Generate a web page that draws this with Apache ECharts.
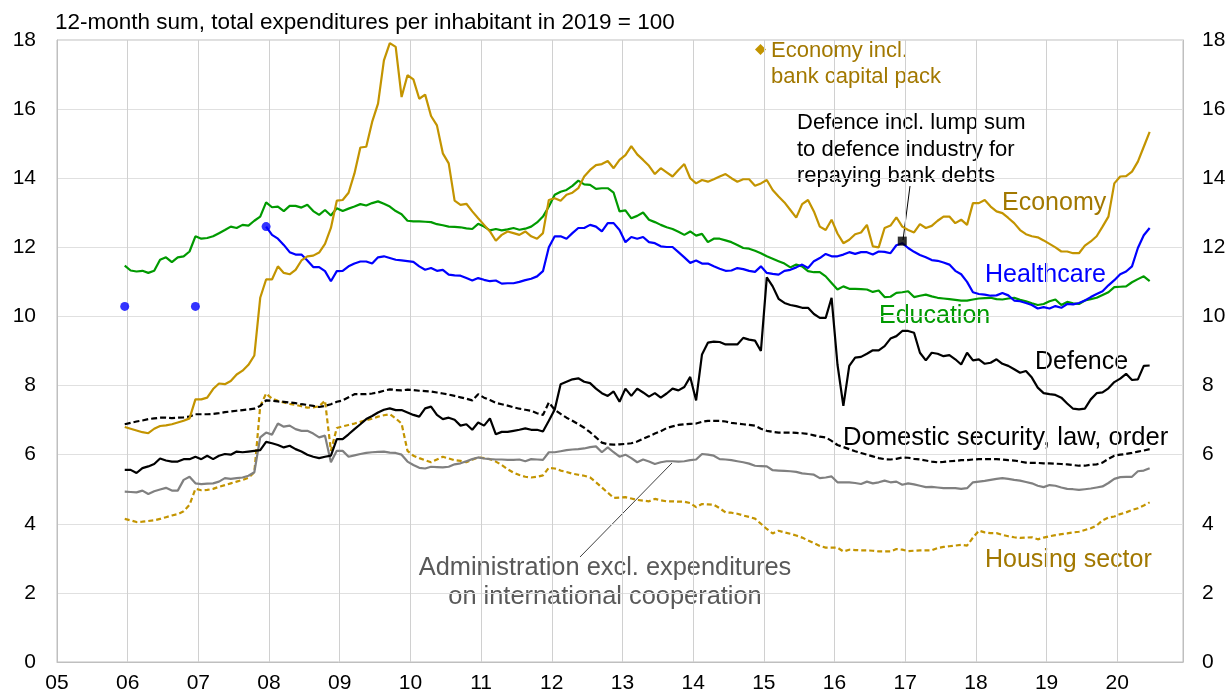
<!DOCTYPE html>
<html><head><meta charset="utf-8">
<script src="https://cdn.jsdelivr.net/npm/echarts@6/dist/echarts.min.js"></script>
<style>html,body{margin:0;padding:0;background:#fff}#c{width:1230px;height:694px}</style>
</head><body><div id="c"></div>
<script>
// First observation: December 2005, monthly to June 2020
const startYear = 2005, startMonth = 12;
const xTickLabels = ['05','06','07','08','09','10','11','12','13','14','15','16','17','18','19','20'];
const yTickLabels = ['0','2','4','6','8','10','12','14','16','18'];

const economy = [6.8,
 6.75,6.7,6.65,6.62,6.75,6.83,6.85,6.88,6.93,6.98,7.05,7.6,
 7.6,7.65,7.9,8.06,8.04,8.13,8.32,8.43,8.6,8.87,10.54,11.07,
 11.07,11.45,11.26,11.22,11.35,11.62,11.74,11.76,11.85,12.1,12.56,13.35,
 13.37,13.58,14.14,14.89,14.91,15.63,16.16,17.41,17.91,17.8,16.35,16.98,
 16.86,16.3,16.42,15.8,15.53,14.72,14.43,13.35,13.23,13.26,13.04,12.84,
 12.65,12.46,12.19,12.36,12.46,12.41,12.36,12.46,12.32,12.25,12.41,13.37,
 13.42,13.35,13.52,13.58,13.71,14.05,14.24,14.38,14.41,14.5,14.29,14.53,
 14.67,14.93,14.69,14.53,14.36,14.12,14.29,14.17,14.05,14.24,14.41,14.0,
 13.85,13.95,13.9,13.97,14.05,14.12,14.0,13.9,13.97,13.97,13.78,13.85,
 13.95,13.66,13.47,13.3,13.08,12.86,13.25,13.37,13.04,12.6,12.5,12.8,
 12.4,12.12,12.22,12.38,12.43,12.65,12.03,12.0,12.56,12.63,12.87,12.6,
 12.5,12.43,12.67,12.56,12.62,12.77,12.89,12.89,12.7,12.8,12.65,13.28,
 13.28,13.37,13.18,13.04,12.99,12.85,12.7,12.5,12.38,12.32,12.29,12.2,
 12.1,12.0,11.88,11.88,11.83,11.83,12.05,12.17,12.32,12.6,12.89,13.85,
 14.05,14.06,14.19,14.48,14.91,15.34];

const healthcare = [10.29,
 null,null,null,null,null,null,null,null,null,null,null,10.29,
 null,null,null,null,null,null,null,null,null,null,null,12.6,
 12.36,12.25,12.07,11.86,11.79,11.79,11.62,11.43,11.43,11.31,11.02,11.31,
 11.32,11.45,11.53,11.59,11.59,11.53,11.71,11.74,11.69,11.64,11.62,11.6,
 11.58,11.45,11.35,11.4,11.32,11.35,11.21,11.19,11.18,11.11,11.04,11.11,
 11.06,11.02,11.04,10.95,10.96,10.96,11.0,11.05,11.09,11.16,11.31,12.0,
 12.32,12.32,12.25,12.41,12.56,12.56,12.65,12.6,12.46,12.7,12.7,12.5,
 12.15,12.3,12.25,12.3,12.15,12.12,12.03,12.01,12.01,11.86,11.71,11.55,
 11.62,11.53,11.53,11.45,11.38,11.32,11.33,11.4,11.37,11.32,11.29,11.45,
 11.26,11.23,11.21,11.32,11.35,11.42,11.5,11.4,11.6,11.69,11.81,11.74,
 11.74,11.79,11.86,11.81,11.86,11.86,11.79,11.88,11.87,11.83,12.06,12.12,
 11.98,11.87,11.78,11.71,11.63,11.61,11.56,11.5,11.32,11.22,11.0,10.7,
 10.65,10.63,10.6,10.61,10.68,10.61,10.46,10.44,10.39,10.33,10.23,10.27,
 10.23,10.3,10.25,10.36,10.35,10.39,10.46,10.56,10.65,10.73,10.9,11.05,
 11.22,11.3,11.45,11.98,12.35,12.56];

const education = [11.47,
 11.33,11.3,11.32,11.26,11.32,11.64,11.71,11.57,11.71,11.74,11.88,12.32,
 12.25,12.27,12.32,12.41,12.5,12.6,12.56,12.65,12.63,12.77,12.89,13.3,
 13.16,13.18,13.05,13.2,13.2,13.15,13.23,13.05,12.94,13.08,12.92,13.13,
 13.05,13.12,13.18,13.25,13.21,13.28,13.33,13.26,13.18,13.05,12.96,12.77,
 12.75,12.75,12.74,12.73,12.67,12.64,12.6,12.59,12.58,12.55,12.53,12.68,
 12.6,12.49,12.53,12.49,12.52,12.56,12.51,12.54,12.6,12.72,12.89,13.18,
 13.52,13.61,13.66,13.78,13.93,13.82,13.81,13.69,13.71,13.71,13.58,13.04,
 13.07,12.84,12.91,13.01,12.8,12.73,12.65,12.58,12.53,12.45,12.36,12.46,
 12.34,12.39,12.15,12.25,12.25,12.2,12.15,12.07,11.98,11.96,11.9,11.83,
 11.74,11.67,11.6,11.53,11.42,11.5,11.45,11.31,11.28,11.28,11.16,10.97,
 10.78,10.87,10.8,10.8,10.79,10.78,10.71,10.75,10.56,10.57,10.68,10.7,
 10.73,10.56,10.6,10.63,10.58,10.54,10.52,10.5,10.48,10.46,10.46,10.49,
 10.52,10.53,10.54,10.5,10.49,10.52,10.54,10.48,10.44,10.38,10.33,10.36,
 10.44,10.49,10.33,10.42,10.38,10.36,10.46,10.5,10.54,10.62,10.7,10.85,
 10.86,10.87,10.99,11.08,11.16,11.02];

const defence = [5.56,
 5.56,5.47,5.61,5.66,5.73,5.89,5.83,5.8,5.8,5.87,5.87,5.94,
 5.87,5.97,5.87,5.97,6.02,6.0,6.09,6.07,6.09,6.11,6.13,6.37,
 6.33,6.28,6.21,6.26,6.16,6.09,6.0,5.94,5.9,5.94,5.97,6.45,
 6.45,6.59,6.74,6.88,7.03,7.12,7.22,7.3,7.34,7.29,7.29,7.22,
 7.15,7.1,7.34,7.39,7.15,7.03,7.07,7.01,6.84,6.88,6.72,6.93,
 6.84,7.05,6.59,6.66,6.66,6.69,6.72,6.76,6.72,6.72,6.67,6.98,
 7.31,8.04,8.11,8.18,8.21,8.11,8.07,7.91,7.78,7.7,7.83,7.53,
 7.91,7.7,7.91,7.8,7.68,7.78,7.65,7.77,7.91,7.86,7.96,8.25,
 7.57,8.9,9.24,9.27,9.26,9.19,9.19,9.19,9.38,9.33,9.3,9.0,
 11.13,10.87,10.51,10.39,10.33,10.3,10.25,10.25,10.07,9.96,9.96,10.54,
 8.61,7.41,8.57,8.81,8.83,8.92,9.02,9.02,9.14,9.36,9.43,9.58,
 9.58,9.53,8.95,8.73,8.95,8.92,8.85,8.88,8.76,8.61,8.95,8.73,
 8.76,8.63,8.66,8.76,8.63,8.57,8.47,8.37,8.42,8.23,7.94,7.78,
 7.75,7.73,7.65,7.48,7.33,7.31,7.33,7.6,7.78,7.8,7.92,8.1,
 8.2,8.34,8.16,8.18,8.57,8.58];

const domesticSecurity = [6.88,
 6.92,6.96,6.99,7.03,7.05,7.07,7.07,7.06,7.07,7.08,7.1,7.17,
 7.17,7.17,7.18,7.2,7.23,7.25,7.27,7.29,7.31,7.33,7.41,7.57,
 7.56,7.54,7.53,7.51,7.49,7.46,7.44,7.41,7.38,7.41,7.46,7.53,
 7.57,7.66,7.75,7.75,7.75,7.77,7.8,7.85,7.89,7.87,7.86,7.88,
 7.87,7.85,7.84,7.83,7.8,7.77,7.74,7.7,7.66,7.62,7.57,7.75,
 7.65,7.58,7.5,7.46,7.42,7.37,7.33,7.3,7.27,7.2,7.15,7.51,
 7.3,7.18,7.07,6.98,6.88,6.78,6.65,6.5,6.35,6.3,6.29,6.3,
 6.31,6.33,6.38,6.46,6.53,6.61,6.68,6.77,6.82,6.86,6.88,6.89,
 6.9,6.95,6.98,6.98,6.98,6.96,6.92,6.9,6.88,6.86,6.84,6.75,
 6.69,6.66,6.64,6.64,6.64,6.63,6.62,6.6,6.56,6.52,6.5,6.4,
 6.28,6.22,6.16,6.1,6.05,6.0,5.95,5.9,5.87,5.86,5.88,5.92,
 5.91,5.88,5.86,5.83,5.8,5.78,5.79,5.81,5.82,5.84,5.84,5.86,
 5.87,5.87,5.87,5.87,5.86,5.84,5.83,5.8,5.77,5.76,5.76,5.75,
 5.75,5.74,5.73,5.72,5.7,5.68,5.68,5.71,5.72,5.77,5.88,5.97,
 6.0,6.02,6.05,6.09,6.12,6.16];

const administration = [4.93,
 4.92,4.91,4.96,4.86,4.94,4.99,5.04,4.96,4.96,5.27,5.36,5.17,
 5.15,5.16,5.17,5.22,5.32,5.3,5.32,5.34,5.39,5.49,6.5,6.64,
 6.58,6.9,6.81,6.84,6.74,6.69,6.69,6.61,6.5,6.55,5.78,6.11,
 6.11,5.94,5.98,6.02,6.05,6.07,6.08,6.09,6.06,6.05,6.0,5.8,
 5.7,5.62,5.6,5.65,5.64,5.63,5.65,5.72,5.75,5.81,5.87,5.92,
 5.89,5.87,5.86,5.86,5.85,5.85,5.86,5.81,5.87,5.86,5.85,6.07,
 6.07,6.1,6.13,6.15,6.16,6.18,6.22,6.24,6.07,6.21,6.07,5.94,
 6.0,5.9,5.78,5.86,5.8,5.73,5.78,5.81,5.81,5.8,5.81,5.84,
 5.86,6.02,6.0,5.97,5.87,5.86,5.84,5.81,5.78,5.74,5.68,5.67,
 5.66,5.55,5.54,5.53,5.52,5.5,5.46,5.44,5.42,5.32,5.34,5.37,
 5.2,5.2,5.2,5.18,5.15,5.22,5.17,5.2,5.25,5.2,5.22,5.13,
 5.17,5.14,5.1,5.06,5.07,5.05,5.03,5.03,5.03,5.01,5.03,5.2,
 5.22,5.24,5.27,5.3,5.32,5.3,5.27,5.25,5.21,5.17,5.1,5.06,
 5.12,5.1,5.05,5.01,5.0,4.98,5.0,5.02,5.05,5.08,5.18,5.3,
 5.35,5.36,5.36,5.52,5.54,5.61];

const housing = [4.14,
 4.1,4.05,4.06,4.08,4.1,4.14,4.19,4.24,4.28,4.36,4.55,5.01,
 4.97,4.98,5.01,5.07,5.12,5.17,5.22,5.27,5.33,5.49,7.4,7.77,
 7.62,7.56,7.51,7.47,7.44,7.4,7.36,7.37,7.4,7.56,6.11,6.77,
 6.82,6.86,6.9,6.95,7.0,7.04,7.1,7.14,7.17,7.05,6.9,6.11,
 5.97,5.9,5.84,5.78,5.86,5.94,5.89,5.84,5.82,5.78,5.85,5.92,
 5.9,5.87,5.8,5.7,5.58,5.48,5.41,5.36,5.34,5.36,5.4,5.62,
 5.6,5.54,5.5,5.45,5.42,5.39,5.34,5.2,5.05,4.9,4.75,4.76,
 4.77,4.73,4.69,4.67,4.65,4.72,4.68,4.65,4.65,4.64,4.64,4.6,
 4.48,4.57,4.56,4.55,4.45,4.33,4.32,4.29,4.24,4.2,4.15,4.0,
 3.85,3.72,3.8,3.75,3.71,3.66,3.6,3.52,3.44,3.36,3.31,3.31,
 3.31,3.2,3.25,3.24,3.23,3.23,3.22,3.2,3.2,3.2,3.27,3.25,
 3.21,3.22,3.23,3.23,3.23,3.3,3.33,3.35,3.37,3.39,3.37,3.6,
 3.8,3.75,3.73,3.73,3.68,3.64,3.61,3.59,3.6,3.61,3.55,3.6,
 3.64,3.67,3.7,3.72,3.75,3.77,3.82,3.87,3.95,4.1,4.18,4.21,
 4.28,4.33,4.4,4.45,4.53,4.62];

// Single annotated observation: Defence incl. lump sum (December 2016)
const defenceLumpSum = [{ year: 2016, month: 12, value: 12.18 }];

// ---- build ----
const monthPos = (y, m) => y + (m - 0.5) / 12;
const xAt = i => { const m0 = startMonth - 1 + i; return monthPos(startYear + Math.floor(m0 / 12), (m0 % 12) + 1); };
const pairs = arr => arr.map((v, i) => [xAt(i), v]);
const F = 'px "Liberation Sans", Arial, sans-serif';
const GOLD = '#C39400', GOLD_TXT = '#A27800', GREEN = '#009A00', BLUE = '#0000FF', GREY = '#808080';

const hcDots = healthcare.map((v, i) => (v != null && (i === 0 || healthcare[i - 1] == null)) ? [xAt(i), v] : null).filter(Boolean);

const chart = echarts.init(document.getElementById('c'), null, { renderer: 'canvas' });
const txt = (text, x, y, size, fill, align) => ({
  type: 'text', x: x, y: y, silent: true,
  style: { text: text, font: size + F, fill: fill, textAlign: align || 'left', align: align || 'left', textVerticalAlign: 'middle', verticalAlign: 'middle' }
});
const lineStyle = (c, w, t) => ({ color: c, width: w, type: t || 'solid' });

chart.setOption({
  animation: false,
  backgroundColor: '#fff',
  grid: { left: 57, right: 47, top: 40, bottom: 29, show: true, borderColor: '#BFBFBF', borderWidth: 1, backgroundColor: 'transparent' },
  xAxis: {
    type: 'value', min: 2005, max: 2020.93, interval: 1,
    axisLine: { show: true, lineStyle: { color: '#BFBFBF' } },
    axisTick: { show: false },
    splitLine: { show: true, lineStyle: { color: '#D0D0D0', width: 1 } },
    axisLabel: { fontSize: 21, color: '#000', fontFamily: 'Liberation Sans, Arial', margin: 11,
      formatter: v => Number.isInteger(v) ? (xTickLabels[v - 2005] || '') : '' }
  },
  yAxis: [
    { type: 'value', min: 0, max: 18, interval: 2, position: 'left',
      axisLine: { show: true, lineStyle: { color: '#BFBFBF' } }, axisTick: { show: false },
      splitLine: { show: true, lineStyle: { color: '#E0E0E0', width: 1 } },
      axisLabel: { fontSize: 21, color: '#000', fontFamily: 'Liberation Sans, Arial', margin: 21, formatter: v => yTickLabels[v / 2] } },
    { type: 'value', min: 0, max: 18, interval: 2, position: 'right',
      axisLine: { show: true, lineStyle: { color: '#BFBFBF' } }, axisTick: { show: false },
      splitLine: { show: false },
      axisLabel: { fontSize: 21, color: '#000', fontFamily: 'Liberation Sans, Arial', margin: 19, formatter: v => yTickLabels[v / 2] } }
  ],
  series: [
    { name: 'Housing sector', type: 'line', data: pairs(housing), symbol: 'none', lineStyle: lineStyle(GOLD, 2.2, [5, 3]) },
    { name: 'Administration', type: 'line', data: pairs(administration), symbol: 'none', lineStyle: lineStyle(GREY, 2.2) },
    { name: 'Domestic security', type: 'line', data: pairs(domesticSecurity), symbol: 'none', lineStyle: lineStyle('#000', 2.2, [6, 3]) },
    { name: 'Defence', type: 'line', data: pairs(defence), symbol: 'none', lineStyle: lineStyle('#000', 2.2) },
    { name: 'Education', type: 'line', data: pairs(education), symbol: 'none', lineStyle: lineStyle(GREEN, 2.2) },
    { name: 'Healthcare', type: 'line', data: pairs(healthcare), symbol: 'none', connectNulls: false, lineStyle: lineStyle(BLUE, 2.2) },
    { name: 'Healthcare annual', type: 'scatter', data: hcDots, symbol: 'circle', symbolSize: 9, itemStyle: { color: BLUE } },
    { name: 'Economy', type: 'line', data: pairs(economy), symbol: 'none', lineStyle: lineStyle(GOLD, 2.2) },
    { name: 'Defence incl. lump sum', type: 'scatter', data: defenceLumpSum.map(d => [monthPos(d.year, d.month), d.value]), symbol: 'rect', symbolSize: 9, itemStyle: { color: '#000' }, z: 5 }
  ],
  graphic: [
    txt('12-month sum, total expenditures per inhabitant in 2019 = 100', 55, 23, 22.5, '#000'),
    { type: 'polygon', silent: true, shape: { points: [[760.5, 44], [766, 49.5], [760.5, 55], [755, 49.5]] }, style: { fill: GOLD } },
    txt('Economy incl.', 771, 51, 22, GOLD_TXT),
    txt('bank capital pack', 771, 77, 22, GOLD_TXT),
    txt('Defence incl. lump sum', 797, 123, 22, '#000'),
    txt('to defence industry for', 797, 150, 22, '#000'),
    txt('repaying bank debts', 797, 176, 22, '#000'),
    { type: 'line', silent: true, shape: { x1: 910, y1: 186, x2: 903, y2: 240 }, style: { stroke: '#000', lineWidth: 1 } },
    txt('Economy', 1002, 203, 25, GOLD_TXT),
    txt('Healthcare', 985, 275, 25, BLUE),
    txt('Education', 879, 316, 25, GREEN),
    txt('Defence', 1035, 362, 25, '#000'),
    txt('Domestic security, law, order', 843, 438, 25.6, '#000'),
    txt('Housing sector', 985, 560, 25, GOLD_TXT),
    { type: 'line', silent: true, shape: { x1: 580, y1: 557, x2: 672, y2: 463 }, style: { stroke: '#404040', lineWidth: 1 } },
    txt('Administration excl. expenditures', 605, 568, 25.4, '#595959', 'center'),
    txt('on international cooperation', 605, 597, 25.4, '#595959', 'center')
  ]
});
</script></body></html>
